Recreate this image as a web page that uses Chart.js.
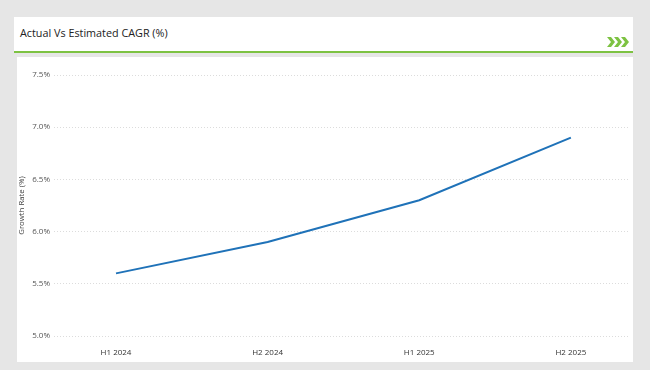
<!DOCTYPE html>
<html>
<head>
<meta charset="utf-8">
<script src="https://cdn.jsdelivr.net/npm/chart.js@4.4.0/dist/chart.umd.min.js"></script>
<style>
    body { margin: 0; background: #e6e6e6; width: 650px; height: 370px; position: relative; overflow: hidden; font-family: "Open Sans", sans-serif; }
    .cabecalho { position: absolute; left: 14px; top: 17px; width: 619px; height: 34px; background: #fff; border-bottom: 2px solid #7dc242; }
    .titulo { position: absolute; left: 6px; top: 8px; font-size: 10.8px; color: #222; }
    .setas { position: absolute; right: 2px; top: 20px; }
    .painel { position: absolute; left: 17px; top: 57px; width: 616px; height: 305px; background: #fff; }
</style>
</head>
<body>
<div class="cabecalho">
    <div class="titulo">Actual Vs Estimated CAGR (%)</div>
    <svg class="setas" width="24" height="10" viewBox="0 0 24 10">
        <polygon points="0,0 4,0 8,5 4,10 0,10 4,5" fill="#7dc242"/>
        <polygon points="7,0 11,0 15,5 11,10 7,10 11,5" fill="#7dc242"/>
        <polygon points="14,0 18,0 22,5 18,10 14,10 18,5" fill="#7dc242"/>
    </svg>
</div>
<div class="painel">
    <canvas id="grafico" width="616" height="305"></canvas>
</div>
<script>
const periodos = ["H1 2024", "H2 2024", "H1 2025", "H2 2025"];
const crescimento = [5.6, 5.9, 6.3, 6.9];
const eixoY = [5.0, 5.5, 6.0, 6.5, 7.0, 7.5];

new Chart(document.getElementById("grafico"), {
    type: "line",
    data: {
        datasets: [{
            label: "Growth Rate (%)",
            data: crescimento.map((valor, i) => ({ x: i, y: valor })),
            borderColor: "#1f72b8",
            borderWidth: 2,
            pointRadius: 0,
            tension: 0
        }]
    },
    options: {
        responsive: false,
        animation: false,
        layout: { padding: { left: 0, right: 3, top: 18, bottom: 0 } },
        plugins: { legend: { display: false }, tooltip: { enabled: false } },
        scales: {
            x: {
                type: "linear",
                min: -0.409,
                max: 3.39,
                afterBuildTicks: escala => { escala.ticks = periodos.map((p, i) => ({ value: i })); },
                afterFit: escala => { escala.height = 26; },
                grid: { display: false, drawTicks: false },
                border: { display: false },
                ticks: {
                    padding: 12,
                    color: "#333",
                    font: { family: "Open Sans", size: 8 },
                    callback: valor => periodos[valor]
                }
            },
            y: {
                min: eixoY[0],
                max: eixoY[eixoY.length - 1],
                afterBuildTicks: escala => { escala.ticks = eixoY.map(v => ({ value: v })); },
                afterFit: escala => { escala.width = 37; },
                grid: { color: "#dcdcdc", drawTicks: false, lineWidth: 1 },
                border: { display: false, dash: [1, 2] },
                ticks: {
                    padding: 4,
                    color: "#555",
                    font: { family: "Open Sans", size: 8 },
                    callback: valor => valor.toFixed(1) + "%"
                },
                title: {
                    display: true,
                    text: "Growth Rate (%)",
                    color: "#444",
                    font: { family: "Open Sans", size: 7.8 },
                    padding: 0
                }
            }
        }
    }
});
</script>
</body>
</html>
